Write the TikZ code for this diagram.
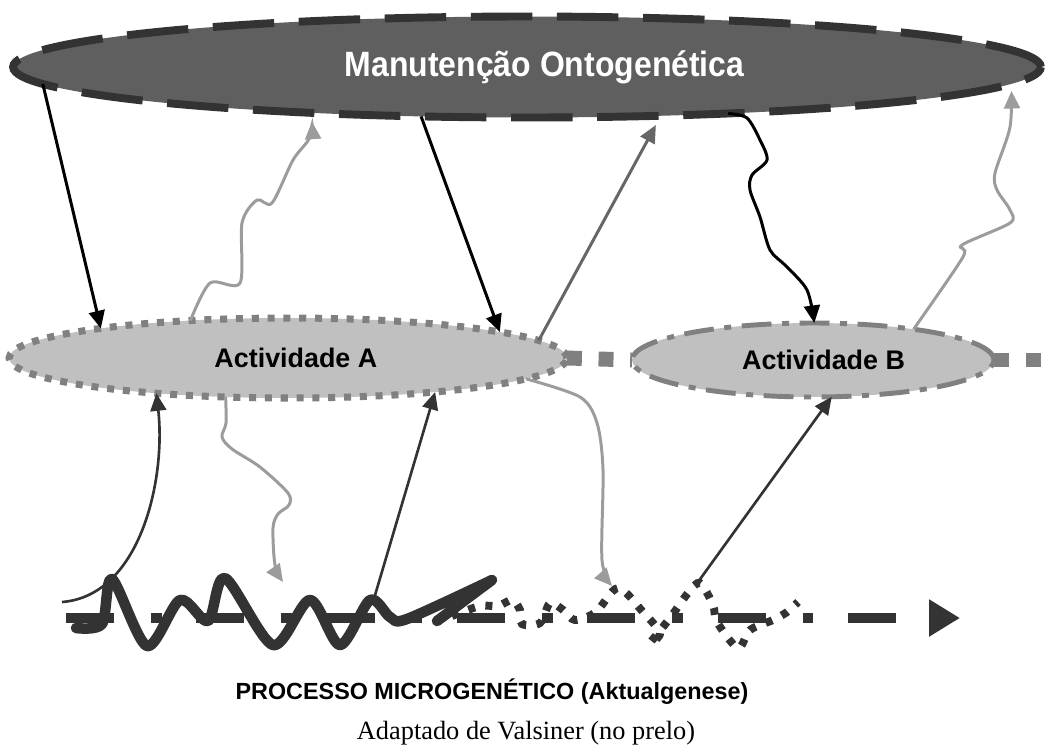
\documentclass[tikz,border=0pt]{standalone}
\usepackage{fontspec}
\setmainfont{Liberation Serif}
\setsansfont{Liberation Sans}
\usetikzlibrary{arrows.meta,shapes.geometric}

\definecolor{ontofill}{HTML}{5F5F5F}
\definecolor{ontoline}{HTML}{333333}
\definecolor{actfill}{HTML}{C0C0C0}
\definecolor{actline}{HTML}{808080}
\definecolor{lightarr}{HTML}{9C9C9C}
\definecolor{midarr}{HTML}{666666}
\definecolor{darkarr}{HTML}{333333}

\begin{document}
\begin{tikzpicture}[x=0.02cm,y=-0.02cm,
  bigell/.style={ellipse,draw=ontoline,fill=ontofill,line width=4.5pt,dash pattern=on 35pt off 14pt,
    minimum width=20.56cm,minimum height=2.02cm,inner sep=0pt,outer sep=0pt,text=white,
    font=\sffamily\bfseries\fontsize{20}{22}\selectfont},
  actell/.style={ellipse,draw=actline,fill=actfill,inner sep=0pt,outer sep=0pt,
    font=\sffamily\bfseries\fontsize{15.3}{17}\selectfont},
  link/.style={draw=actline,line width=8.5pt,dash pattern=on 8.5pt off 9.5pt},
  down/.style={black,line width=1.7pt,-{Triangle[length=10pt,width=9pt]}},
  up/.style={darkarr,line width=1.5pt,-{Triangle[length=10pt,width=9pt]}},
  wig/.style={lightarr,line width=1.7pt,-{Triangle[length=10pt,width=9pt]}},
  wave/.style={darkarr,line width=6pt,line join=round,line cap=round},
  dots/.style={darkarr,line width=4.5pt,dash pattern=on 4pt off 6pt}]
\useasboundingbox (0,0) rectangle (1053,747);

% ellipses
\node[bigell] (onto) at (527,67) {\hspace*{20pt}\scalebox{0.91}[1]{Manutenção Ontogenética}};
\node[actell,line width=4pt,dash pattern=on 4pt off 5pt,minimum width=11.16cm,minimum height=1.6cm] (act_A) at (288,358) {\hspace*{9pt}Actividade A};
\node[actell,line width=2.8pt,dash pattern=on 17pt off 6pt on 4pt off 6pt,minimum width=7.24cm,minimum height=1.48cm] (act_B) at (813,360) {\hspace*{12pt}Actividade B};

\coordinate (b_end) at (1048,360);
\draw[link] (act_A.east) -- (act_B.west);
\draw[link] (act_B.east) -- (b_end);

% process line
\coordinate (p_start) at (66,618);
\coordinate (p_end) at (960,618);
\draw[darkarr,line width=6.2pt,dash pattern=on 27.2pt off 21pt on 6.2pt off 19.8pt,
  -{Triangle[length=17.6pt,width=20pt]}] (p_start) -- (p_end);

% microgenetic wave
\draw[wave] plot[smooth,tension=0.5] coordinates {(76,628) (102,624) (112,579) (147,646) (180,600)
  (208,621) (225,578) (273,645) (310,600) (340,645) (370,600) (390,617) (407,619) (492,580)} -- (437,621);
\draw[dots] plot[smooth,tension=0.5] coordinates {(452,616) (480,606) (498,606) (512,600) (520,610)
  (522,624) (540,623) (550,603) (563,610) (575,620) (596,612) (618,588) (643,612) (660,633)
  (650,643) (670,618) (688,593) (700,583) (713,605) (717,622) (738,648) (750,630) (773,620)
  (787,612) (798,602)};

\coordinate (w_1) at (62,602);
\coordinate (w_2) at (373,602);
\coordinate (w_3) at (698,582);
\coordinate (w_4) at (283,582);
\coordinate (w_5) at (612,586);

% top down
\draw[down] (onto.182.1) -- (act_A.171.5);
\draw[down] (onto.205.7) -- (act_A.7.9);
\draw[down] plot[smooth,tension=0.5] coordinates {(onto.347.5) (747,118) (760,140) (767,160) (752,175)
  (750,190) (760,217) (770,250) (786,266) (807,290) (act_B.88.7)};

% bottom up
\draw[wig,shorten >=4pt] plot[smooth,tension=0.5] coordinates {(act_B.17.1) (963,257) (962,245)
  (1010,223) (1010,210) (997,190) (995,173) (1010,127) (onto.358.8)};
\draw[wig,shorten >=5pt] plot[smooth,tension=0.5] coordinates {(act_A.159.7) (210,283) (240,283)
  (242,223) (257,200) (272,203) (293,160) (310,137) (onto.192.7)};
\draw[midarr,line width=1.7pt,-{Triangle[length=10pt,width=9pt]},shorten >=6pt] (act_A.4.3) -- (onto.340.7);
\draw[up] (w_1) .. controls (140,596) and (166,480) .. (act_A.195.5);
\draw[up] (w_2) -- (act_A.347.1);
\draw[up] (w_3) -- (act_B.297.3);

% activity to process
\draw[wig] plot[smooth,tension=0.5] coordinates {(act_A.212.2) (226,423) (222,437) (232,449)
  (260,467) (288,493) (289,505) (278,514) (273,528) (275,565) (w_4)};
\draw[wig] plot[smooth,tension=0.5] coordinates {(act_A.355.1) (580,397) (597,423) (603,470)
  (602,560) (w_5)};

% labels
\node[font=\sffamily\bfseries\fontsize{13.3}{15}\selectfont] (proc) at (492,692) {PROCESSO MICROGENÉTICO (Aktualgenese)};
\node[font=\rmfamily\fontsize{15}{17}\selectfont] (src) at (526,733) {Adaptado de Valsiner (no prelo)};
\end{tikzpicture}
\end{document}
